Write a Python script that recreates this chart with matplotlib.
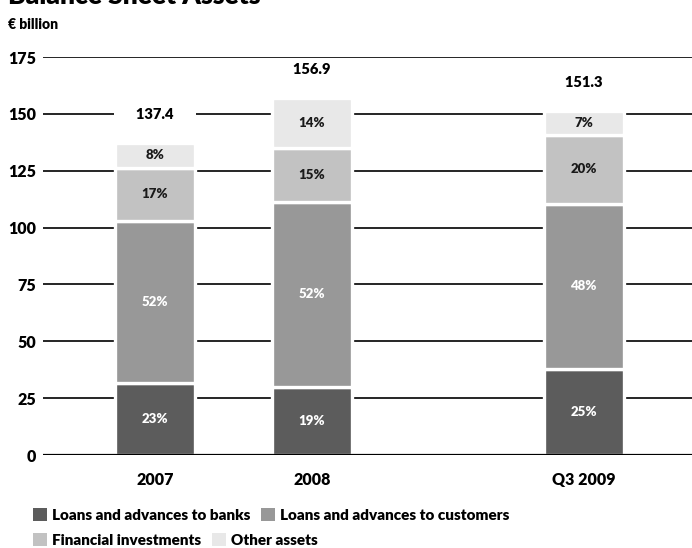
import matplotlib.pyplot as plt
import numpy as np
from matplotlib.patches import Patch

plt.rcParams['font.family'] = ['Lato', 'DejaVu Sans']
plt.rcParams['font.weight'] = 'heavy'

# balance sheet totals (EUR bn) and the share of each asset type
periods = ["2007", "2008", "Q3 2009"]
totals = [137.4, 156.9, 151.3]
banks_pct = [23, 19, 25]
customers_pct = [52, 52, 48]
financial_pct = [17, 15, 20]
other_pct = [8, 14, 7]

series = ["Loans and advances to banks", "Loans and advances to customers",
          "Financial investments", "Other assets"]
colors = ["#5c5c5c", "#989898", "#c2c2c2", "#e8e8e8"]
text_colors = ["white", "white", "#1a1a1a", "#1a1a1a"]

# Q3 2009 sits further out than the year-end columns
xpos = np.array([0, 1, 2.73])
width = 0.51

fig = plt.figure(figsize=(6.92, 5.48), dpi=100)
ax = fig.add_axes([43 / 692, 93 / 548, 649 / 692, 398 / 548])

tot = np.array(totals)
shares = [banks_pct, customers_pct, financial_pct, other_pct]
bottom = np.zeros(len(periods))
for pct, col, tcol in zip(shares, colors, text_colors):
    vals = tot * np.array(pct) / 100
    ax.bar(xpos, vals, width, bottom=bottom, color=col, edgecolor="white",
           linewidth=2.4, zorder=3)
    for x, b, v, p in zip(xpos, bottom, vals, pct):
        ax.text(x, b + v / 2, f"{p}%", ha="center", va="center",
                color=tcol, fontsize=9.5, fontweight="heavy", zorder=4)
    bottom += vals

# totals sit on a white box so the gridline breaks around them
for x, t in zip(xpos, totals):
    ax.text(x, t + 12.5, f"     {t:.1f}     ", ha="center", va="center",
            fontsize=10.5, fontweight="heavy", zorder=4,
            bbox=dict(facecolor="white", edgecolor="none", pad=4))

ax.set_ylim(0, 175)
ax.set_xlim(-0.713, 3.42)
ax.set_yticks(np.arange(0, 176, 25))
ax.set_xticks(xpos)
ax.set_xticklabels(periods)
ax.yaxis.grid(True, color="black", linewidth=1.2, zorder=1)
ax.axhline(0, color="black", linewidth=1.6, zorder=5)
for s in ax.spines.values():
    s.set_visible(False)
ax.tick_params(axis="both", length=0, labelsize=11.5)
ax.tick_params(axis="y", pad=5)
ax.tick_params(axis="x", pad=12)
for lab in ax.get_xticklabels() + ax.get_yticklabels():
    lab.set_fontweight("heavy")

fig.text(0.012, 0.986, "Balance Sheet Assets", fontsize=19, fontweight="heavy",
         va="bottom", ha="left")
fig.text(0.012, 0.956, "€ billion", fontsize=10, fontweight="heavy",
         va="center", ha="left")

handles = [Patch(facecolor=c, edgecolor="none") for c in colors]
leg_kw = dict(ncol=2, frameon=False, handlelength=0.9,
              handleheight=0.9, handletextpad=0.35, columnspacing=0.7,
              borderaxespad=0, borderpad=0,
              prop=dict(size=11, weight="heavy"))
fig.legend(handles[:2], series[:2], loc="center left",
           bbox_to_anchor=(0.048, 0.06), **leg_kw)
fig.legend(handles[2:], series[2:], loc="center left",
           bbox_to_anchor=(0.048, 0.015), **leg_kw)

fig.savefig("out.png", dpi=100)
